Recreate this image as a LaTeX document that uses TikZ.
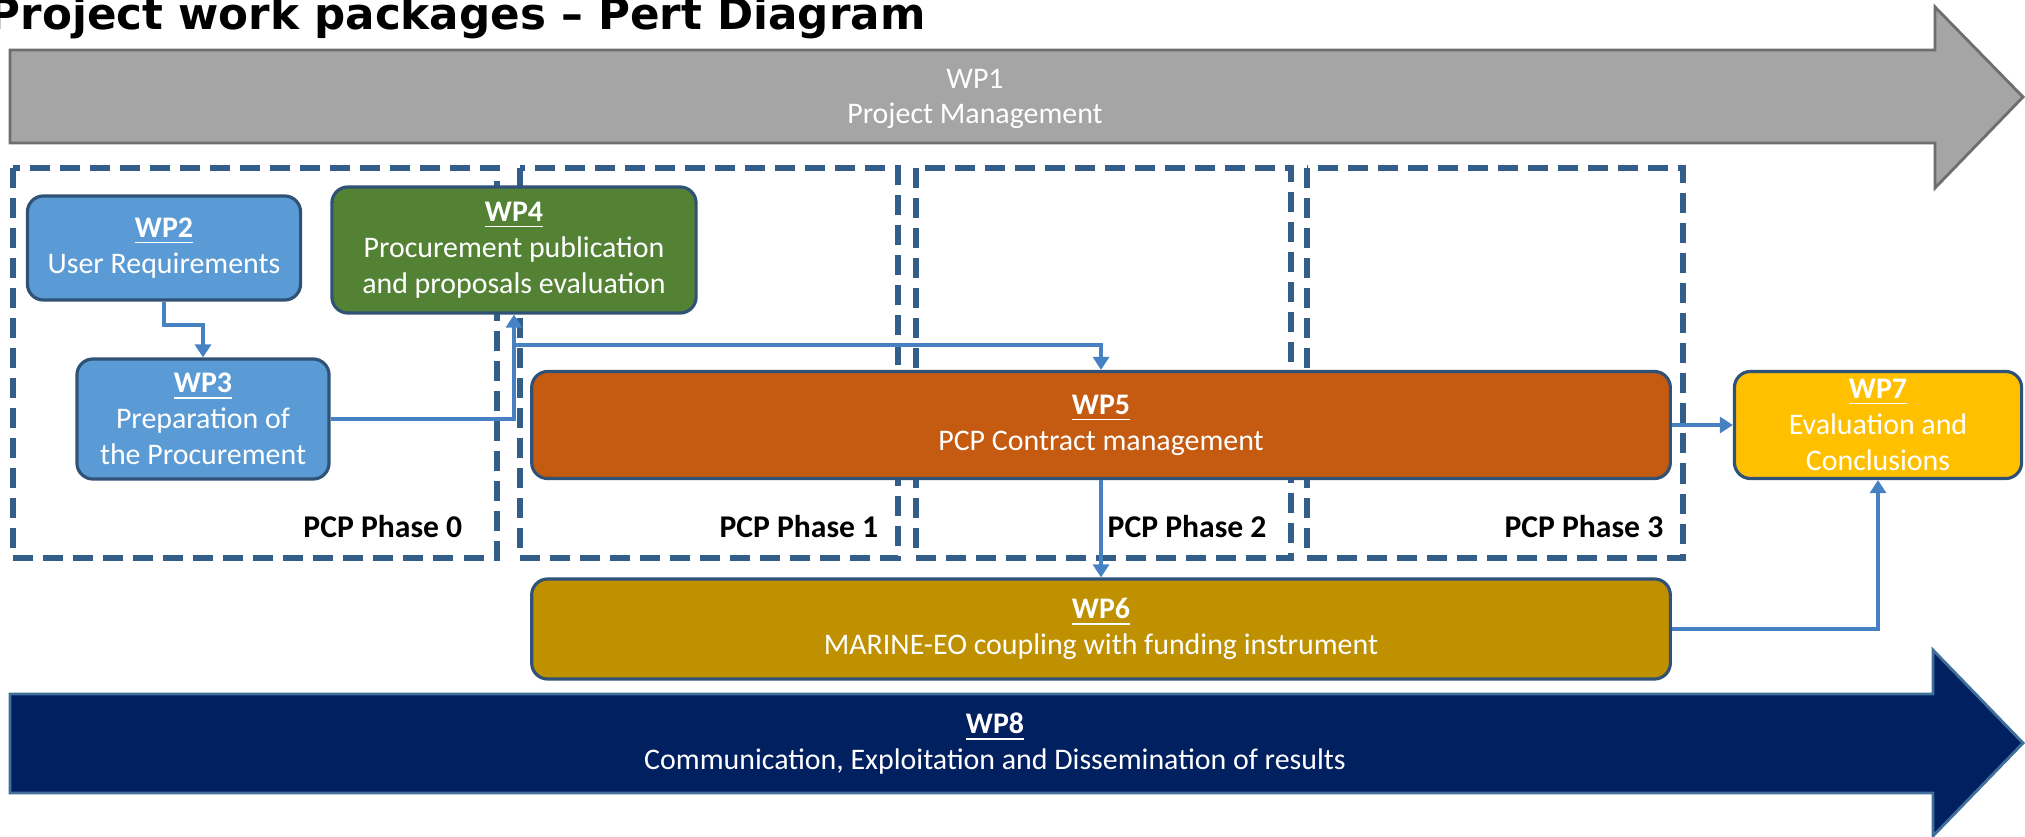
\documentclass[tikz,border=0pt]{standalone}
\usepackage{fontspec}
\setmainfont{Carlito}
\newfontfamily\titlefont{DejaVu Sans}
\usetikzlibrary{arrows.meta}
\definecolor{wpgray}{RGB}{165,165,165}
\definecolor{wpgrayline}{RGB}{110,110,110}
\definecolor{wpblue}{RGB}{91,155,213}
\definecolor{wpgreen}{RGB}{84,130,53}
\definecolor{wporange}{RGB}{197,90,17}
\definecolor{wpgold}{RGB}{191,144,0}
\definecolor{wpyellow}{RGB}{255,192,0}
\definecolor{wpnavy}{RGB}{0,32,96}
\definecolor{wpline}{RGB}{47,82,118}
\definecolor{phaseline}{RGB}{52,94,138}
\definecolor{linkblue}{RGB}{70,130,195}
\newcommand{\wpname}[1]{\underline{\textbf{#1}}}

\tikzset{
  wpbox/.style={draw=wpline, line width=0.9pt, rounded corners=0.16cm, text=white,
    align=center, font=\fontsize{8.5}{10.2}\selectfont, inner sep=2pt},
  phasebox/.style={draw=phaseline, line width=1.7pt, dash pattern=on 0.2cm off 0.1cm},
  phaselabel/.style={font=\fontsize{9}{11}\selectfont\bfseries, inner sep=0pt},
  link/.style={draw=linkblue, line width=1.1pt, -{Triangle[length=0.13cm, width=0.16cm]}},
}

\begin{document}
\begin{tikzpicture}[x=0.01cm, y=-0.01cm]
    \useasboundingbox (0,0) rectangle (2025,837);

    % Titulli
    \node[anchor=base west, inner sep=0pt, font=\titlefont\bfseries\fontsize{12.4}{14}\selectfont] (title) at (-12,30) {Project work packages – Pert Diagram};

    % WP1 shigjeta
    \draw[draw=wpgrayline, fill=wpgray, line width=0.8pt] (10,50) -- (1935,50) -- (1935,7) -- (2023,97) -- (1935,188) -- (1935,143) -- (10,143) -- cycle;
    \node[text=white, align=center, font=\fontsize{8.5}{10.2}\selectfont] (wp1) at (975,99) {WP1\\Project Management};

    % WP8 shigjeta
    \draw[draw=wpline!60!wpblue, fill=wpnavy, line width=0.8pt] (10,694) -- (1933,694) -- (1933,650) -- (2023,743) -- (1933,836) -- (1933,793) -- (10,793) -- cycle;
    \node[text=white, align=center, font=\fontsize{8.5}{10.2}\selectfont] (wp8) at (995,744) {\wpname{WP8}\\Communication, Exploitation and Dissemination of results};

    % Fazat
    \draw[phasebox] (13,168) rectangle (497,558);
    \draw[phasebox] (520,168) rectangle (898,558);
    \draw[phasebox] (916,168) rectangle (1291,558);
    \draw[phasebox] (1307,168) rectangle (1683,558);
    \node[phaselabel, anchor=east] (phase0) at (463,527) {PCP Phase 0};
    \node[phaselabel, anchor=east] (phase1) at (879,527) {PCP Phase 1};
    \node[phaselabel, anchor=west] (phase2) at (1107,527) {PCP Phase 2};
    \node[phaselabel, anchor=east] (phase3) at (1664,527) {PCP Phase 3};

    % Kutite WP
    \node[wpbox, fill=wpblue, minimum width=2.73cm, minimum height=1.04cm] (wp2) at (164,248) {\wpname{WP2}\\User Requirements};
    \node[wpbox, fill=wpgreen, minimum width=3.64cm, minimum height=1.26cm] (wp4) at (514,250) {\wpname{WP4}\\Procurement publication\\and proposals evaluation};
    \node[wpbox, fill=wpblue, minimum width=2.52cm, minimum height=1.20cm] (wp3) at (203,419) {\wpname{WP3}\\Preparation of\\the Procurement};
    \node[wpbox, fill=wporange, minimum width=11.38cm, minimum height=1.07cm] (wp5) at (1101,425) {\wpname{WP5}\\PCP Contract management};
    \node[wpbox, fill=wpgold, minimum width=11.38cm, minimum height=1.00cm] (wp6) at (1101,629) {\wpname{WP6}\\MARINE-EO coupling with funding instrument};
    \node[wpbox, fill=wpyellow, inner sep=0pt, minimum width=2.87cm, minimum height=1.07cm] (wp7) at (1878,425) {\wpname{WP7}\\Evaluation and\\Conclusions};

    % Shigjetat
    \draw[link] (wp2.south) -- ++(0,23) -| (wp3.north);
    \draw[link] (wp3.east) -| (wp4.south);
    \draw[link] (wp4.south) ++(0,30) -| (wp5.north);
    \draw[link] (wp5) -- (wp7);
    \draw[link] (wp5) -- (wp6);
    \draw[link] (wp6.east) -| (wp7.south);
\end{tikzpicture}
\end{document}
